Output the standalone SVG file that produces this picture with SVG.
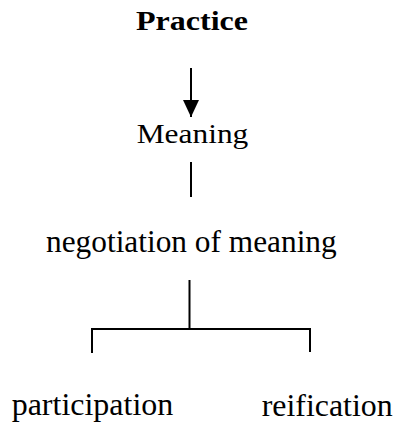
<svg xmlns="http://www.w3.org/2000/svg" width="396" height="424" viewBox="0 0 396 424">
<defs>
<style>
text{font-family:'Liberation Serif','Times New Roman',Times,'DejaVu Serif',serif;fill:#000}
.c{stroke:#000;stroke-width:2;fill:none}
</style>
<marker id="ah" markerUnits="userSpaceOnUse" markerWidth="18" markerHeight="20" refX="17" refY="8" orient="auto">
<path d="M0,0 L17,8 L0,16 Z" fill="#000"/>
</marker>
</defs>
<rect width="396" height="424" fill="#fff"/>
<g id="practice"><text x="136" y="30" font-size="28" font-weight="bold" textLength="112" lengthAdjust="spacingAndGlyphs">Practice</text></g>
<g id="meaning"><text x="136.7" y="142.5" font-size="28" textLength="111.6" lengthAdjust="spacingAndGlyphs">Meaning</text></g>
<g id="negotiation"><text x="46" y="251.5" font-size="31" textLength="290.7" lengthAdjust="spacingAndGlyphs">negotiation of meaning</text></g>
<g id="participation"><text x="11.7" y="415" font-size="31" textLength="161.6" lengthAdjust="spacingAndGlyphs">participation</text></g>
<g id="reification"><text x="261.7" y="415.5" font-size="31" textLength="131" lengthAdjust="spacingAndGlyphs">reification</text></g>
<g id="connectors">
<line class="c" x1="191" y1="68" x2="191" y2="117" marker-end="url(#ah)"/>
<line class="c" x1="191" y1="162" x2="191" y2="197"/>
<line class="c" x1="189.5" y1="280" x2="189.5" y2="329"/>
<polyline class="c" points="92,353 92,329 310,329 310,352"/>
</g>
</svg>
